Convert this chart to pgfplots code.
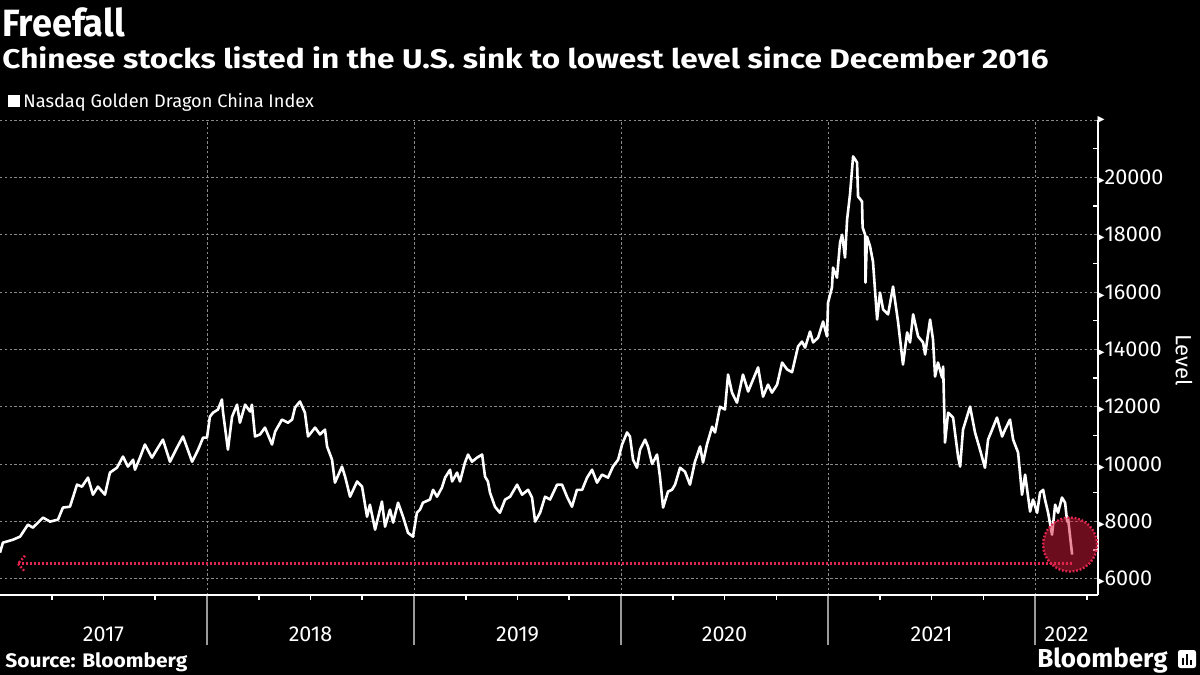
\documentclass[border=0pt]{standalone}
\usepackage{fontspec}
\setmainfont{Fira Sans}
\newfontfamily\dejavu{DejaVu Sans}
\usepackage{graphicx}
\usepackage{pgfplots}
\pgfplotsset{compat=1.18}
\usetikzlibrary{arrows.meta}
\definecolor{gridgray}{HTML}{8A8A8A}
\definecolor{yeargray}{HTML}{9A9A9A}
\definecolor{hlred}{HTML}{E0264F}
\definecolor{circred}{HTML}{D81A3C}
\newcommand{\tri}{{\dejavu\fontsize{7}{7}\selectfont\char"25B8}}
\begin{document}
\color{white}
\begin{tikzpicture}
\useasboundingbox (0,0) rectangle (600pt,-337.5pt);
\fill[black] (0,0) rectangle (600pt,-337.5pt);
% titles
\node[anchor=base west, inner sep=0pt, font=\fontsize{19}{20}\selectfont\bfseries] at (1pt,-18pt) {\scalebox{0.95}[1]{Freefall}};
\node[anchor=base west, inner sep=0pt, font=\fontsize{13.5}{14}\selectfont\bfseries] at (1pt,-34pt) {\scalebox{1.168}[1]{Chinese stocks listed in the U.S. sink to lowest level since December 2016}};
\fill[white] (4pt,-47.5pt) rectangle (10pt,-53.5pt);
\node[anchor=base west, inner sep=0pt, font=\fontsize{9.1}{10}\selectfont] at (11.5pt,-53.5pt) {Nasdaq Golden Dragon China Index};
\node[anchor=base west, inner sep=0pt, font=\fontsize{9.8}{10}\selectfont\bfseries] at (2.5pt,-333.5pt) {\scalebox{1.07}[1]{Source: Bloomberg}};
\node[anchor=base east, inner sep=0pt, font=\fontsize{13}{14}\selectfont\bfseries] at (584pt,-333.5pt) {Bloomberg};
\fill[white, rounded corners=1.2pt] (589pt,-325pt) rectangle (598pt,-334pt);
\fill[black] (591pt,-332.5pt) rectangle (592pt,-329pt);
\fill[black] (593pt,-332.5pt) rectangle (594pt,-327pt);
\fill[black] (595pt,-332.5pt) rectangle (596pt,-330pt);
\node[rotate=-90, inner sep=0pt, font=\fontsize{11}{12}\selectfont] at (592pt,-180pt) {Level};
\begin{axis}[
  at={(0pt,-297.5pt)}, anchor=south west,
  scale only axis, width=549pt, height=237.5pt,
  xmin=2017, xmax=2022.304, ymin=5430, ymax=22000,
  axis x line*=bottom, axis y line*=right,
  axis line style={white, line width=0.8pt},
  xtick={2018,2019,2020,2021,2022}, xticklabels={},
  minor xtick={2017.25,2017.5,2017.75,2018.25,2018.5,2018.75,2019.25,2019.5,2019.75,2020.25,2020.5,2020.75,2021.25,2021.5,2021.75,2022.25},
  extra x ticks={2017.5,2018.5,2019.5,2020.5,2021.5,2022.152},
  extra x tick labels={2017,2018,2019,2020,2021,2022},
  extra x tick style={grid=none, major tick length=0pt, tick label style={anchor=base, yshift=-23pt}},
  ytick={6000,8000,10000,12000,14000,16000,18000,20000,22000},
  yticklabels={\tri 6000,\tri 8000,\tri 10000,\tri 12000,\tri 14000,\tri 16000,\tri 18000,\tri 20000,\tri},
  minor ytick={7000,9000,11000,13000,15000,17000,19000,21000},
  yticklabel style={anchor=west, inner xsep=0pt, xshift=-0.4pt},
  xtick align=outside, ytick align=inside,
  major tick length=25pt, minor tick length=2.5pt,
  major x tick style={yeargray, line width=0.6pt},
  major y tick style={draw=none},
  minor tick style={white, line width=0.8pt},
  tick label style={font=\fontsize{10.8}{11}\selectfont, text=white},
  grid=major,
  major grid style={gridgray, line width=0.4pt, dash pattern=on 1.2pt off 1.2pt},
  scaled ticks=false,
  clip=false,
]
\addplot[white, line width=1.3pt, line join=round] coordinates {
(2017.000,6907)(2017.014,7256)(2017.063,7360)(2017.097,7466)(2017.135,7885)(2017.159,7780)
(2017.208,8130)(2017.242,7990)(2017.280,8060)(2017.304,8480)(2017.338,8510)(2017.372,9280)
(2017.396,9210)(2017.425,9525)(2017.449,8930)(2017.473,9210)(2017.507,8930)(2017.531,9700)
(2017.565,9870)(2017.594,10260)(2017.618,9910)(2017.643,10150)(2017.652,9800)(2017.676,10220)
(2017.700,10680)(2017.734,10220)(2017.763,10570)(2017.787,10850)(2017.821,10080)(2017.855,10570)
(2017.884,10960)(2017.928,10080)(2017.957,10500)(2017.981,10920)(2018.000,10920)(2018.014,11650)
(2018.029,11790)(2018.053,11900)(2018.072,12250)(2018.077,11830)(2018.101,10500)(2018.121,11650)
(2018.145,12070)(2018.159,11440)(2018.184,12070)(2018.208,11830)(2018.217,12070)(2018.232,10960)
(2018.256,11030)(2018.280,11270)(2018.314,10680)(2018.329,11130)(2018.362,11550)(2018.391,11440)
(2018.411,11550)(2018.425,11970)(2018.449,12180)(2018.473,11790)(2018.488,10960)(2018.522,11270)
(2018.546,11030)(2018.570,11200)(2018.580,10610)(2018.604,10150)(2018.618,9350)(2018.652,9910)
(2018.667,9560)(2018.691,8860)(2018.725,9390)(2018.749,9210)(2018.773,8160)(2018.787,8580)
(2018.812,7710)(2018.845,8690)(2018.860,7815)(2018.884,8410)(2018.899,7955)(2018.923,8650)
(2018.947,8160)(2018.971,7600)(2018.995,7466)(2019.014,8300)(2019.029,8410)(2019.043,8650)
(2019.077,8760)(2019.092,9100)(2019.111,8860)(2019.135,9180)(2019.150,9525)(2019.174,9800)
(2019.184,9390)(2019.208,9700)(2019.222,9390)(2019.246,10050)(2019.261,10330)(2019.280,10080)
(2019.304,10220)(2019.329,10330)(2019.343,9560)(2019.357,9390)(2019.367,9000)(2019.391,8510)
(2019.415,8300)(2019.440,8760)(2019.464,8860)(2019.498,9280)(2019.522,8930)(2019.551,9100)
(2019.570,8830)(2019.585,7990)(2019.609,8300)(2019.633,8860)(2019.657,8760)(2019.691,9280)
(2019.715,9280)(2019.739,8860)(2019.763,8510)(2019.787,9100)(2019.812,9100)(2019.836,9525)
(2019.860,9800)(2019.884,9350)(2019.908,9630)(2019.937,9525)(2019.961,9910)(2019.986,10150)
(2020.005,10680)(2020.029,11100)(2020.043,10960)(2020.058,10150)(2020.077,9870)(2020.092,10500)
(2020.116,10850)(2020.130,10610)(2020.150,10000)(2020.174,10330)(2020.188,9560)(2020.203,8480)
(2020.227,9040)(2020.246,9100)(2020.261,9280)(2020.285,9870)(2020.309,9730)(2020.333,9280)
(2020.357,10080)(2020.382,10610)(2020.396,10050)(2020.415,10680)(2020.440,11300)(2020.454,11100)
(2020.478,12000)(2020.502,11900)(2020.517,13120)(2020.536,12490)(2020.560,12140)(2020.589,13120)
(2020.614,12530)(2020.638,12950)(2020.662,13370)(2020.686,12350)(2020.710,12770)(2020.729,12490)
(2020.754,12770)(2020.778,13540)(2020.802,13300)(2020.826,13200)(2020.855,14100)(2020.874,14270)
(2020.889,14060)(2020.913,14620)(2020.928,14240)(2020.952,14410)(2020.976,14970)(2020.995,14450)
(2021.000,15630)(2021.019,16160)(2021.024,16850)(2021.043,16500)(2021.058,17730)(2021.068,18000)
(2021.082,17200)(2021.092,18530)(2021.106,19400)(2021.121,20730)(2021.140,20520)(2021.145,19330)
(2021.164,19160)(2021.167,18250)(2021.179,18000)(2021.181,16330)(2021.188,17930)(2021.203,17590)
(2021.217,17060)(2021.237,15040)(2021.251,15980)(2021.266,15390)(2021.290,15220)(2021.314,16190)
(2021.338,14970)(2021.362,13470)(2021.382,14590)(2021.396,14240)(2021.411,15220)(2021.435,14450)
(2021.459,14240)(2021.469,13820)(2021.493,15040)(2021.507,14340)(2021.517,13050)(2021.531,13540)
(2021.551,13010)(2021.556,13400)(2021.565,10750)(2021.580,11790)(2021.604,11620)(2021.628,10260)
(2021.638,9910)(2021.652,11200)(2021.686,12000)(2021.710,11100)(2021.734,10500)(2021.758,9870)
(2021.773,10850)(2021.816,11620)(2021.841,10960)(2021.855,11200)(2021.879,11550)(2021.894,10850)
(2021.918,10400)(2021.937,8930)(2021.952,9630)(2021.976,8340)(2021.990,8760)(2022.010,8300)
(2022.024,9000)(2022.039,9100)(2022.048,8760)(2022.063,8300)(2022.082,7535)(2022.097,8580)
(2022.111,8300)(2022.130,8830)(2022.145,8650)(2022.155,7990)(2022.159,8130)(2022.179,6840)
};
\fill[circred, fill opacity=0.5] (axis cs:2022.169,7190) circle[radius=13.5pt];
\draw[hlred, line width=1.2pt, dash pattern=on 0.9pt off 0.9pt] (axis cs:2022.169,7190) circle[radius=13.5pt];
\draw[hlred, line width=1.5pt, dash pattern=on 1pt off 1pt] (axis cs:2022.179,6520) -- (axis cs:2017.087,6520);
\draw[hlred, line width=1.2pt, dash pattern=on 0.9pt off 0.9pt] ([xshift=3.5pt,yshift=4pt]axis cs:2017.087,6520) -- (axis cs:2017.087,6520) -- ([xshift=3.5pt,yshift=-4pt]axis cs:2017.087,6520);
\end{axis}
\end{tikzpicture}
\end{document}
